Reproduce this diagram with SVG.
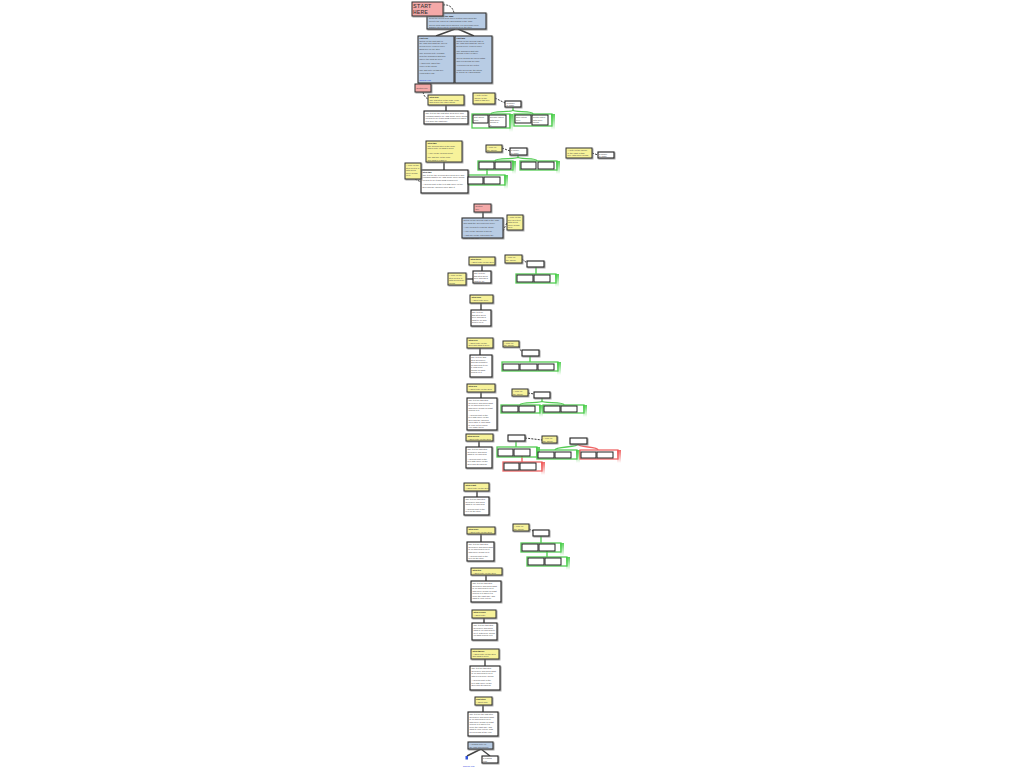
<svg xmlns="http://www.w3.org/2000/svg" width="1024" height="768" viewBox="0 0 1024 768">
<defs>
<filter id="sh" x="-20%" y="-20%" width="140%" height="150%"><feDropShadow dx="0.8" dy="0.8" stdDeviation="0.5" flood-color="#777" flood-opacity="0.8"/></filter>
<linearGradient id="gf" x1="0" y1="0" x2="0" y2="1"><stop offset="0" stop-color="#44cc44" stop-opacity="0.9"/><stop offset="1" stop-color="#44cc44" stop-opacity="0"/></linearGradient>
<linearGradient id="rf" x1="0" y1="0" x2="0" y2="1"><stop offset="0" stop-color="#ee5555" stop-opacity="0.9"/><stop offset="1" stop-color="#ee5555" stop-opacity="0"/></linearGradient>
</defs>
<style>
.p{fill:#f4a9a8;stroke:#333;stroke-width:1;filter:url(#sh)}
.b{fill:#b8cce4;stroke:#333;stroke-width:1.1;filter:url(#sh)}
.y{fill:#f7f29a;stroke:#333;stroke-width:1;filter:url(#sh)}
.w{fill:#fff;stroke:#222;stroke-width:1.1;filter:url(#sh)}
.s{fill:#fff;stroke:#222;stroke-width:1}
.gg{fill:none;stroke:#55cc55;stroke-width:1.3}
.rg{fill:none;stroke:#ee6666;stroke-width:1.3}
.ln{fill:none;stroke:#444;stroke-width:1.4}
.ds{fill:none;stroke:#222;stroke-width:0.9;stroke-dasharray:2 1.2}
.gc{fill:none;stroke:#55cc55;stroke-width:1.4}
.rc{fill:none;stroke:#ee6666;stroke-width:1.4}
.t{font-family:"Liberation Sans",Arial,sans-serif;font-size:2.2px;fill:#444}
.h{font-family:"Liberation Sans",Arial,sans-serif;font-size:2.2px;fill:#222;font-weight:bold}
.st{font-family:"Liberation Mono","DejaVu Sans Mono",monospace;font-size:6.2px;fill:#333}
.lk{font-family:"Liberation Sans",Arial,sans-serif;font-size:2.4px;fill:#2233dd}
</style>
<rect width="1024" height="768" fill="#fff"/>

<g id="connectors">
<path class="ds" d="M443,5 Q452,4 454,13"/>
<path class="ln" d="M455,29 L436,36 M458,29 L474,36"/>
<path class="ds" d="M423,92 Q424,97 428,99"/>
<path class="ln" d="M446,105 V111"/>
<path class="ds" d="M495,98 L505,103"/>
<path class="gc" d="M513,107 V110 C513,113 491,110 491,114 M513,110 C513,113 533,110 533,114"/>
<path class="ln" d="M444,162 V170"/>
<path class="ds" d="M415,179 L421,182"/>
<path class="ds" d="M502,148 L510,151"/>
<path class="gc" d="M518,155 V157 C518,160 495,157 495,161 M518,157 C518,160 537,157 537,161"/>
<path class="gc" d="M487,169 V175"/>
<path class="ds" d="M592,153 L598,155"/>
<path class="ln" d="M483,212 V218"/>
<path class="ds" d="M507,223 Q504,228 503,232"/>
<path class="ln" d="M482,265 V271"/>
<path class="ln" d="M466,279 H473"/>
<path class="ds" d="M522,259 L527,263"/>
<path class="gc" d="M536,267 V274"/>
<path class="ln" d="M481,303 V310"/>
<path class="ln" d="M480,348 V355"/>
<path class="ds" d="M519,346 Q520,350 522,352"/>
<path class="gc" d="M530,356 V362"/>
<path class="ln" d="M481,392 V398"/>
<path class="ds" d="M528,393 L534,394"/>
<path class="gc" d="M542,398 V401 C542,404 520,401 520,405 M542,401 C542,404 564,401 564,405"/>
<path class="ln" d="M479,441 V447"/>
<path class="ds" d="M525,438 L542,440"/>
<path class="gc" d="M516,441 V447"/>
<path class="rc" d="M522,456 V462"/>
<path class="gc" d="M578,444 C578,448 555,446 555,450"/>
<path class="rc" d="M578,444 C578,448 598,446 598,450"/>
<path class="ln" d="M477,491 V497"/>
<path class="ln" d="M481,534 V542"/>
<path class="ds" d="M529,529 L533,531"/>
<path class="gc" d="M541,536 V543"/>
<path class="gc" d="M547,551 V557"/>
<path class="ln" d="M486,575 V581"/>
<path class="ln" d="M484,618 V623"/>
<path class="ln" d="M485,659 V666"/>
<path class="ln" d="M483,705 V712"/>
<path class="ln" d="M481,749 L467,756 M481,749 L490,756"/>
</g>

<g id="groups">
<rect class="gg" x="472" y="114" width="38" height="14"/><rect x="509" y="114" width="4" height="18" fill="url(#gf)"/>
<rect class="gg" x="514" y="114" width="38" height="12"/><rect x="551" y="114" width="4" height="16" fill="url(#gf)"/>
<rect class="gg" x="478" y="161" width="35" height="9"/><rect x="512" y="161" width="4" height="13" fill="url(#gf)"/>
<rect class="gg" x="520" y="161" width="37" height="9"/><rect x="556" y="161" width="4" height="13" fill="url(#gf)"/>
<rect class="gg" x="468" y="175" width="37" height="10"/><rect x="504" y="175" width="4" height="14" fill="url(#gf)"/>
<rect class="gg" x="516" y="274" width="40" height="9"/><rect x="555" y="274" width="4" height="13" fill="url(#gf)"/>
<rect class="gg" x="502" y="362" width="56" height="9"/><rect x="557" y="362" width="4" height="13" fill="url(#gf)"/>
<rect class="gg" x="501" y="405" width="39" height="8"/><rect x="539" y="405" width="4" height="12" fill="url(#gf)"/>
<rect class="gg" x="543" y="405" width="41" height="8"/><rect x="583" y="405" width="4" height="12" fill="url(#gf)"/>
<rect class="gg" x="497" y="447" width="40" height="10"/><rect x="536" y="447" width="4" height="14" fill="url(#gf)"/>
<rect class="rg" x="503" y="462" width="39" height="9"/><rect x="541" y="462" width="4" height="13" fill="url(#rf)"/>
<rect class="gg" x="537" y="450" width="40" height="9"/><rect x="576" y="450" width="4" height="13" fill="url(#gf)"/>
<rect class="rg" x="580" y="450" width="38" height="9"/><rect x="617" y="450" width="4" height="13" fill="url(#rf)"/>
<rect class="gg" x="521" y="543" width="40" height="9"/><rect x="560" y="543" width="4" height="13" fill="url(#gf)"/>
<rect class="gg" x="527" y="557" width="40" height="9"/><rect x="566" y="557" width="4" height="13" fill="url(#gf)"/>
</g>

<g id="intro"><rect class="b" x="427" y="13" width="59" height="16"/>
<text class="t" x="429" y="16.5"><tspan class="h">Introduction to the map</tspan><tspan x="429" dy="2.8">Read the boxes from top to bottom and follow the</tspan><tspan x="429" dy="2.8">lines to the notes on each branch of the map.</tspan><tspan x="429" dy="3.4">Green lines mark good choices, red lines bad ones.</tspan><tspan x="429" dy="2.8">Dashed lines lead to a comment on the step.</tspan></text></g>

<g id="start"><rect class="p" x="412" y="2" width="31" height="14"/><text class="st" x="413" y="8">START</text><text class="st" x="413" y="14.3">HERE</text></g>

<g id="left-info"><rect class="b" x="418" y="36" width="36" height="47"/>
<text class="t" x="419.5" y="39"><tspan class="h">Part one</tspan><tspan x="419.5" dy="2.7">Notes on the first part of</tspan><tspan x="419.5" dy="2.7">the map and what the boxes</tspan><tspan x="419.5" dy="2.7">below cover, read in order.</tspan><tspan x="419.5" dy="2.7">Each box is one step.</tspan><tspan x="419.5" dy="4.5">The second note explains</tspan><tspan x="419.5" dy="2.7">how the branches split and</tspan><tspan x="419.5" dy="2.7">where the lines go next.</tspan><tspan x="419.5" dy="4.5">A third note about the</tspan><tspan x="419.5" dy="2.7">order of the steps.</tspan><tspan x="419.5" dy="4.5">The last note on this box</tspan><tspan x="419.5" dy="2.7">ends with a link.</tspan></text>
<text class="lk" x="419.5" y="80.5">source link</text></g>

<g id="right-info"><rect class="b" x="455" y="36" width="37" height="47"/>
<text class="t" x="456.5" y="39"><tspan class="h">Part two</tspan><tspan x="456.5" dy="2.7">Notes on the second part of</tspan><tspan x="456.5" dy="2.7">the map and what the boxes</tspan><tspan x="456.5" dy="2.7">below cover, read in order.</tspan><tspan x="456.5" dy="4.5">The branches split into</tspan><tspan x="456.5" dy="2.7">groups of two or three.</tspan><tspan x="456.5" dy="4.5">Green groups are good paths</tspan><tspan x="456.5" dy="2.7">and red groups are bad.</tspan><tspan x="456.5" dy="4.5">Yellow boxes are notes.</tspan><tspan x="456.5" dy="4.5">White boxes are the steps</tspan><tspan x="456.5" dy="2.7">to follow on each branch.</tspan></text></g>

<g id="sec1"><rect class="p" x="415" y="84" width="16" height="8"/><text class="t" x="416.5" y="88.5">section one</text></g>
<g id="n-y1"><rect class="y" x="428" y="95" width="36" height="10"/><text class="t" x="429.5" y="98"><tspan class="h">Step one</tspan><tspan x="429.5" dy="2.7">The first step of the map, read</tspan><tspan x="429.5" dy="2.7">this before the other steps.</tspan></text></g>
<g id="n-w1"><rect class="w" x="424" y="111" width="44" height="13"/><text class="t" x="425.5" y="114"><tspan>The text for the first step goes here and</tspan><tspan x="425.5" dy="2.6">explains what to do, with some more words</tspan><tspan x="425.5" dy="2.6">on how to do it and what comes of it when</tspan><tspan x="425.5" dy="2.6">it is done the right way.</tspan></text></g>
<g id="n-y2"><rect class="y" x="473" y="93" width="22" height="11"/><text class="t" x="474.5" y="96"><tspan>A note on the</tspan><tspan x="474.5" dy="2.6">choice to the</tspan><tspan x="474.5" dy="2.6">right of this box.</tspan></text></g>
<g id="n-w2"><rect class="w" x="505" y="101" width="16" height="6"/><text class="t" x="506.5" y="104"><tspan>a choice</tspan><tspan x="506.5" dy="2.3">to make</tspan></text></g>
<g id="n-a1"><rect class="s" x="473" y="115" width="15" height="8"/><text class="t" x="474" y="118"><tspan>first option</tspan><tspan x="474" dy="2.5">here</tspan></text></g>
<g id="n-a2"><rect class="s" x="489" y="115" width="17" height="12"/><text class="t" x="490" y="118"><tspan>second option</tspan><tspan x="490" dy="2.5">with more</tspan><tspan x="490" dy="2.5">words in</tspan><tspan x="490" dy="2.5">it</tspan></text></g>
<g id="n-b1"><rect class="s" x="515" y="115" width="16" height="8"/><text class="t" x="516" y="118"><tspan>third option</tspan><tspan x="516" dy="2.5">here</tspan></text></g>
<g id="n-b2"><rect class="s" x="532" y="115" width="16" height="10"/><text class="t" x="533" y="118"><tspan>fourth option</tspan><tspan x="533" dy="2.5">with more</tspan><tspan x="533" dy="2.5">words</tspan></text></g>

<g id="n-y3"><rect class="y" x="426" y="141" width="36" height="21"/><text class="t" x="427.5" y="144"><tspan class="h">Step two</tspan><tspan x="427.5" dy="2.7">The second step of the map,</tspan><tspan x="427.5" dy="2.7">with a note on what it is for.</tspan><tspan x="427.5" dy="4.2">A line on the second point.</tspan><tspan x="427.5" dy="4.2">The last line of the note,</tspan><tspan x="427.5" dy="2.7">and what it leads to.</tspan></text></g>
<g id="n-w3"><rect class="w" x="421" y="170" width="47" height="23"/><text class="t" x="422.5" y="173"><tspan class="h">Step two</tspan><tspan x="422.5" dy="2.6">The text for the second step goes here and</tspan><tspan x="422.5" dy="2.6">explains what to do, with some more words</tspan><tspan x="422.5" dy="2.6">on how to do it and what comes of it.</tspan><tspan x="422.5" dy="4.6">A second part of the text with more on the</tspan><tspan x="422.5" dy="2.6">step and the choices open after it.</tspan></text></g>
<g id="n-y4"><rect class="y" x="405" y="163" width="16" height="16"/><text class="t" x="406" y="166"><tspan>A note on the</tspan><tspan x="406" dy="2.6">step next to it</tspan><tspan x="406" dy="2.6">with a few</tspan><tspan x="406" dy="2.6">more words</tspan><tspan x="406" dy="2.6">on it.</tspan></text></g>
<g id="n-y5"><rect class="y" x="486" y="145" width="16" height="7"/><text class="t" x="487" y="148"><tspan>A note on</tspan><tspan x="487" dy="2.5">the choice</tspan></text></g>
<g id="n-w4"><rect class="w" x="510" y="148" width="17" height="7"/><text class="t" x="511" y="151"><tspan>a choice</tspan><tspan x="511" dy="2.5">to make</tspan></text></g>
<g id="n-c1"><rect class="s" x="479" y="162" width="15" height="7"/></g>
<g id="n-c2"><rect class="s" x="495" y="162" width="16" height="7"/></g>
<g id="n-c3"><rect class="s" x="521" y="162" width="15" height="7"/></g>
<g id="n-c4"><rect class="s" x="538" y="162" width="16" height="7"/></g>
<g id="n-c5"><rect class="s" x="468" y="177" width="15" height="7"/></g>
<g id="n-c6"><rect class="s" x="484" y="177" width="16" height="7"/></g>
<g id="n-y6"><rect class="y" x="566" y="148" width="26" height="10"/><text class="t" x="567.5" y="151"><tspan>A note on the choice</tspan><tspan x="567.5" dy="2.5">to the right of this</tspan><tspan x="567.5" dy="2.5">box, with more words.</tspan></text></g>
<g id="n-w5"><rect class="w" x="598" y="152" width="16" height="6"/><text class="t" x="599" y="155"><tspan>a choice</tspan><tspan x="599" dy="2.3">to make</tspan></text></g>

<g id="sec2"><rect class="p" x="474" y="204" width="17" height="8"/><text class="t" x="475.5" y="207"><tspan>section</tspan><tspan x="475.5" dy="2.5">two</tspan></text></g>
<g id="n-b4"><rect class="b" x="462" y="218" width="41" height="20"/><text class="t" x="463.5" y="221"><tspan>Notes on the second part of the map</tspan><tspan x="463.5" dy="2.6">and what the boxes below cover.</tspan><tspan x="463.5" dy="4.2">A line on how to read the steps.</tspan><tspan x="463.5" dy="4.2">A line on the groups of boxes.</tspan><tspan x="463.5" dy="4.2">A last line on the notes and the</tspan><tspan x="463.5" dy="2.6">links in this part.</tspan></text></g>
<g id="n-y7"><rect class="y" x="507" y="215" width="16" height="15"/><text class="t" x="508" y="218"><tspan>A note on the</tspan><tspan x="508" dy="2.5">box next to it</tspan><tspan x="508" dy="2.5">with a few</tspan><tspan x="508" dy="2.5">more words</tspan><tspan x="508" dy="2.5">on it.</tspan></text></g>

<g id="n-y8"><rect class="y" x="469" y="257" width="26" height="8"/><text class="t" x="470.5" y="260"><tspan class="h">Step three</tspan><tspan x="470.5" dy="2.6">A short note on the step.</tspan></text></g>
<g id="n-w6"><rect class="w" x="473" y="271" width="18" height="12"/><text class="t" x="474" y="274"><tspan>The text for</tspan><tspan x="474" dy="2.5">this step goes</tspan><tspan x="474" dy="2.5">here and says</tspan><tspan x="474" dy="2.5">what to do.</tspan></text></g>
<g id="n-y9"><rect class="y" x="448" y="273" width="18" height="12"/><text class="t" x="449" y="276"><tspan>A note on the</tspan><tspan x="449" dy="2.5">step next to it</tspan><tspan x="449" dy="2.5">with a few more</tspan><tspan x="449" dy="2.5">words.</tspan></text></g>
<g id="n-y10"><rect class="y" x="505" y="255" width="17" height="8"/><text class="t" x="506" y="258"><tspan>A note on</tspan><tspan x="506" dy="2.5">the choice</tspan></text></g>
<g id="n-w7"><rect class="w" x="527" y="261" width="17" height="6"/></g>
<g id="n-d1"><rect class="s" x="517" y="275" width="16" height="7"/></g>
<g id="n-d2"><rect class="s" x="534" y="275" width="16" height="7"/></g>

<g id="n-y11"><rect class="y" x="470" y="295" width="23" height="8"/><text class="t" x="471.5" y="298"><tspan class="h">Step four</tspan><tspan x="471.5" dy="2.6">A short note here.</tspan></text></g>
<g id="n-w8"><rect class="w" x="471" y="310" width="20" height="16"/><text class="t" x="472" y="313"><tspan>The text for</tspan><tspan x="472" dy="2.5">this step goes</tspan><tspan x="472" dy="2.5">here and says</tspan><tspan x="472" dy="2.5">what to do and</tspan><tspan x="472" dy="2.5">how to do it.</tspan></text></g>

<g id="n-y12"><rect class="y" x="467" y="338" width="26" height="10"/><text class="t" x="468.5" y="341"><tspan class="h">Step five</tspan><tspan x="468.5" dy="2.6">A short note on the</tspan><tspan x="468.5" dy="2.6">step and what it is for.</tspan></text></g>
<g id="n-w9"><rect class="w" x="470" y="355" width="22" height="22"/><text class="t" x="471" y="358"><tspan>The text for this</tspan><tspan x="471" dy="2.5">step goes here</tspan><tspan x="471" dy="2.5">and says what to</tspan><tspan x="471" dy="2.5">do and how to do</tspan><tspan x="471" dy="2.5">it, with more</tspan><tspan x="471" dy="2.5">words on what</tspan><tspan x="471" dy="2.5">comes of it.</tspan></text></g>
<g id="n-y13"><rect class="y" x="503" y="341" width="16" height="6"/><text class="t" x="504" y="344"><tspan>A note on</tspan><tspan x="504" dy="2.3">the choice</tspan></text></g>
<g id="n-w10"><rect class="w" x="522" y="350" width="17" height="6"/></g>
<g id="n-e1"><rect class="s" x="503" y="364" width="16" height="6"/></g>
<g id="n-e2"><rect class="s" x="520" y="364" width="17" height="6"/></g>
<g id="n-e3"><rect class="s" x="538" y="364" width="16" height="6"/></g>

<g id="n-y14"><rect class="y" x="467" y="384" width="28" height="8"/><text class="t" x="468.5" y="387"><tspan class="h">Step six</tspan><tspan x="468.5" dy="2.6">A short note on the step.</tspan></text></g>
<g id="n-w11"><rect class="w" x="467" y="398" width="30" height="32"/><text class="t" x="468.5" y="401"><tspan>The text for this step</tspan><tspan x="468.5" dy="2.5">goes here and says what</tspan><tspan x="468.5" dy="2.5">to do and how to do it,</tspan><tspan x="468.5" dy="2.5">with more words on what</tspan><tspan x="468.5" dy="2.5">comes of it.</tspan><tspan x="468.5" dy="4.5">A second part of the</tspan><tspan x="468.5" dy="2.5">text with more on the</tspan><tspan x="468.5" dy="2.5">step and the choices</tspan><tspan x="468.5" dy="2.5">open after it, and what</tspan><tspan x="468.5" dy="2.5">to look out for when</tspan><tspan x="468.5" dy="2.5">you make them.</tspan></text></g>
<g id="n-y15"><rect class="y" x="512" y="389" width="16" height="7"/><text class="t" x="513" y="392"><tspan>A note on</tspan><tspan x="513" dy="2.5">the choice</tspan></text></g>
<g id="n-w12"><rect class="w" x="534" y="392" width="16" height="6"/></g>
<g id="n-f1"><rect class="s" x="502" y="406" width="16" height="6"/></g>
<g id="n-f2"><rect class="s" x="519" y="406" width="16" height="6"/></g>
<g id="n-g1"><rect class="s" x="544" y="406" width="16" height="6"/></g>
<g id="n-g2"><rect class="s" x="561" y="406" width="16" height="6"/></g>

<g id="n-y16"><rect class="y" x="466" y="434" width="27" height="7"/><text class="t" x="467.5" y="437"><tspan class="h">Step seven</tspan><tspan x="467.5" dy="2.5">A short note on the step.</tspan></text></g>
<g id="n-w13"><rect class="w" x="466" y="447" width="26" height="21"/><text class="t" x="467.5" y="450"><tspan>The text for this step</tspan><tspan x="467.5" dy="2.5">goes here and says</tspan><tspan x="467.5" dy="2.5">what to do and how.</tspan><tspan x="467.5" dy="4.5">A second part of the</tspan><tspan x="467.5" dy="2.5">text with more on the</tspan><tspan x="467.5" dy="2.5">step and its choices.</tspan></text></g>
<g id="n-w14"><rect class="w" x="508" y="435" width="17" height="6"/></g>
<g id="n-y17"><rect class="y" x="542" y="436" width="15" height="7"/><text class="t" x="543" y="439"><tspan>A note on</tspan><tspan x="543" dy="2.5">the choice</tspan></text></g>
<g id="n-h1"><rect class="s" x="498" y="449" width="15" height="7"/></g>
<g id="n-h2"><rect class="s" x="514" y="449" width="16" height="7"/></g>
<g id="n-i1"><rect class="s" x="504" y="463" width="15" height="7"/></g>
<g id="n-i2"><rect class="s" x="520" y="463" width="16" height="7"/></g>
<g id="n-w15"><rect class="w" x="570" y="438" width="17" height="6"/></g>
<g id="n-j1"><rect class="s" x="538" y="452" width="16" height="6"/></g>
<g id="n-j2"><rect class="s" x="555" y="452" width="16" height="6"/></g>
<g id="n-k1"><rect class="s" x="581" y="452" width="15" height="6"/></g>
<g id="n-k2"><rect class="s" x="597" y="452" width="16" height="6"/></g>

<g id="n-y18"><rect class="y" x="464" y="483" width="25" height="8"/><text class="t" x="465.5" y="486"><tspan class="h">Step eight</tspan><tspan x="465.5" dy="2.6">A short note on the step.</tspan></text></g>
<g id="n-w16"><rect class="w" x="464" y="497" width="25" height="18"/><text class="t" x="465.5" y="500"><tspan>The text for this step</tspan><tspan x="465.5" dy="2.5">goes here and says</tspan><tspan x="465.5" dy="2.5">what to do and how.</tspan><tspan x="465.5" dy="4.5">A second part of the</tspan><tspan x="465.5" dy="2.5">text on the step.</tspan></text></g>

<g id="n-y19"><rect class="y" x="467" y="527" width="28" height="7"/><text class="t" x="468.5" y="530"><tspan class="h">Step nine</tspan><tspan x="468.5" dy="2.5">A short note on the step.</tspan></text></g>
<g id="n-w17"><rect class="w" x="467" y="542" width="27" height="19"/><text class="t" x="468.5" y="545"><tspan>The text for this step</tspan><tspan x="468.5" dy="2.5">goes here and says what</tspan><tspan x="468.5" dy="2.5">to do and how to do it,</tspan><tspan x="468.5" dy="2.5">with more words on it.</tspan><tspan x="468.5" dy="4.2">A second part of the</tspan><tspan x="468.5" dy="2.5">text on the step.</tspan></text></g>
<g id="n-y20"><rect class="y" x="513" y="524" width="16" height="7"/><text class="t" x="514" y="527"><tspan>A note on</tspan><tspan x="514" dy="2.5">the choice</tspan></text></g>
<g id="n-w18"><rect class="w" x="533" y="530" width="16" height="6"/></g>
<g id="n-l1"><rect class="s" x="522" y="544" width="16" height="7"/></g>
<g id="n-l2"><rect class="s" x="539" y="544" width="16" height="7"/></g>
<g id="n-m1"><rect class="s" x="528" y="558" width="16" height="7"/></g>
<g id="n-m2"><rect class="s" x="545" y="558" width="16" height="7"/></g>

<g id="n-y21"><rect class="y" x="471" y="568" width="31" height="7"/><text class="t" x="472.5" y="571"><tspan class="h">Step ten</tspan><tspan x="472.5" dy="2.5">A short note on the step.</tspan></text></g>
<g id="n-w19"><rect class="w" x="471" y="581" width="30" height="21"/><text class="t" x="472.5" y="584"><tspan>The text for this step</tspan><tspan x="472.5" dy="2.5">goes here and says what</tspan><tspan x="472.5" dy="2.5">to do and how to do it,</tspan><tspan x="472.5" dy="2.5">with more words on what</tspan><tspan x="472.5" dy="2.5">comes of it when it is</tspan><tspan x="472.5" dy="2.5">done the right way, and</tspan><tspan x="472.5" dy="2.5">what to look out for.</tspan></text></g>

<g id="n-y22"><rect class="y" x="472" y="610" width="24" height="8"/><text class="t" x="473.5" y="613"><tspan class="h">Step eleven</tspan><tspan x="473.5" dy="2.6">A short note.</tspan></text></g>
<g id="n-w20"><rect class="w" x="472" y="623" width="25" height="17"/><text class="t" x="473.5" y="626"><tspan>The text for this step</tspan><tspan x="473.5" dy="2.5">goes here and says</tspan><tspan x="473.5" dy="2.5">what to do and how to</tspan><tspan x="473.5" dy="2.5">do it, with more words</tspan><tspan x="473.5" dy="2.5">on what comes of it.</tspan></text></g>

<g id="n-y23"><rect class="y" x="471" y="649" width="28" height="10"/><text class="t" x="472.5" y="652"><tspan class="h">Step twelve</tspan><tspan x="472.5" dy="2.6">A short note on the step</tspan><tspan x="472.5" dy="2.6">and what it is for.</tspan></text></g>
<g id="n-w21"><rect class="w" x="470" y="666" width="30" height="24"/><text class="t" x="471.5" y="669"><tspan>The text for this step</tspan><tspan x="471.5" dy="2.5">goes here and says what</tspan><tspan x="471.5" dy="2.5">to do and how to do it,</tspan><tspan x="471.5" dy="2.5">with a few more words.</tspan><tspan x="471.5" dy="4.5">A second part of the</tspan><tspan x="471.5" dy="2.5">text with more on the</tspan><tspan x="471.5" dy="2.5">step and its choices.</tspan></text></g>

<g id="n-y24"><rect class="y" x="475" y="697" width="17" height="8"/><text class="t" x="476" y="700"><tspan class="h">Last step</tspan><tspan x="476" dy="2.6">A short note.</tspan></text></g>
<g id="n-w22"><rect class="w" x="468" y="712" width="30" height="24"/><text class="t" x="469.5" y="715"><tspan>The text for the last step</tspan><tspan x="469.5" dy="2.5">goes here and says what</tspan><tspan x="469.5" dy="2.5">to do and how to do it,</tspan><tspan x="469.5" dy="2.5">with more words on what</tspan><tspan x="469.5" dy="2.5">comes of it when it is</tspan><tspan x="469.5" dy="2.5">done the right way, and</tspan><tspan x="469.5" dy="2.5">what to look out for, with</tspan><tspan x="469.5" dy="2.5">a few words at the end.</tspan></text></g>

<g id="n-end"><rect class="b" x="468" y="742" width="25" height="7"/><text class="t" x="469.5" y="745"><tspan>A closing note on</tspan><tspan x="469.5" dy="2.5">the map and source</tspan></text></g>
<g id="n-src"><rect x="465.5" y="756" width="2.5" height="3.5" fill="#3355dd"/><text class="lk" x="463" y="766.5">source link</text></g>
<g id="n-w23"><rect class="w" x="482" y="756" width="16" height="7"/><text class="t" x="483" y="759"><tspan>a closing</tspan><tspan x="483" dy="2.5">note</tspan></text></g>
</svg>
